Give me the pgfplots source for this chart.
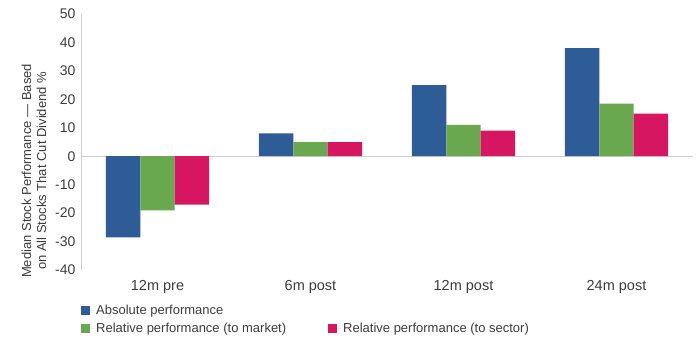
\documentclass[border=0pt]{standalone}
\usepackage{pgfplots}
\pgfplotsset{compat=1.18}
\usepackage{fontspec}
\setmainfont{Liberation Sans}
\definecolor{cblue}{RGB}{46,92,150}
\definecolor{cgreen}{RGB}{106,168,79}
\definecolor{cpink}{RGB}{214,22,96}
\definecolor{txt}{RGB}{60,60,60}
\definecolor{axgray}{RGB}{205,205,205}
\begin{document}
\begin{tikzpicture}[x=1pt,y=1pt]
\useasboundingbox (0,0) rectangle (696,340);
\begin{axis}[
  at={(81pt,70pt)}, anchor=south west,
  scale only axis, width=612pt, height=256pt,
  ymin=-40, ymax=50, xmin=-0.5, xmax=3.5,
  ytick={-40,-30,...,50},
  xtick={0,1,2,3},
  xticklabels={12m pre,6m post,12m post,24m post},
  /pgf/number format/assume math mode=true,
  major tick length=0pt,
  axis x line*=bottom,
  x axis line style={draw=none},
  axis y line*=left,
  y axis line style={draw=axgray, line width=0.8pt, -},
  yticklabel style={font=\fontsize{14}{16}\selectfont, text=txt, xshift=-2pt},
  xticklabel style={font=\fontsize{14.5}{16}\selectfont, text=txt, yshift=-7pt},
  extra y ticks={0},
  extra y tick labels={},
  extra y tick style={grid=major, major grid style={draw=axgray, line width=1.2pt}},
  ylabel={Median Stock Performance — Based\\on All Stocks That Cut Dividend \%},
  ylabel style={align=center, font=\fontsize{13}{15}\selectfont, text=txt,
    at={(axis description cs:-0.077,0.387)}, anchor=center},
  ybar, bar width=0.225,
  legend columns=2,
  legend cell align=left,
  legend style={at={(axis description cs:0,-0.13)}, anchor=north west,
    draw=none, fill=none, font=\fontsize{13}{15}\selectfont, text=txt,
    /tikz/every even column/.append style={column sep=40pt},
    row sep=3pt, inner sep=0pt},
  legend image code/.code={\fill[#1] (0pt,-4.5pt) rectangle (9pt,4.5pt);
    \path (0pt,0pt) -- (13pt,0pt);},
]
\addplot[fill=cblue, draw=none, bar shift=-0.225] coordinates {(0,-28.5) (1,8) (2,25) (3,38)};
\addlegendentry{Absolute performance}
\addlegendimage{empty legend}
\addlegendentry{}
\addplot[fill=cgreen, draw=none, bar shift=0] coordinates {(0,-19) (1,5) (2,11) (3,18.5)};
\addlegendentry{Relative performance (to market)}
\addplot[fill=cpink, draw=none, bar shift=0.225] coordinates {(0,-17) (1,5) (2,9) (3,15)};
\addlegendentry{Relative performance (to sector)}
\end{axis}
\end{tikzpicture}
\end{document}
